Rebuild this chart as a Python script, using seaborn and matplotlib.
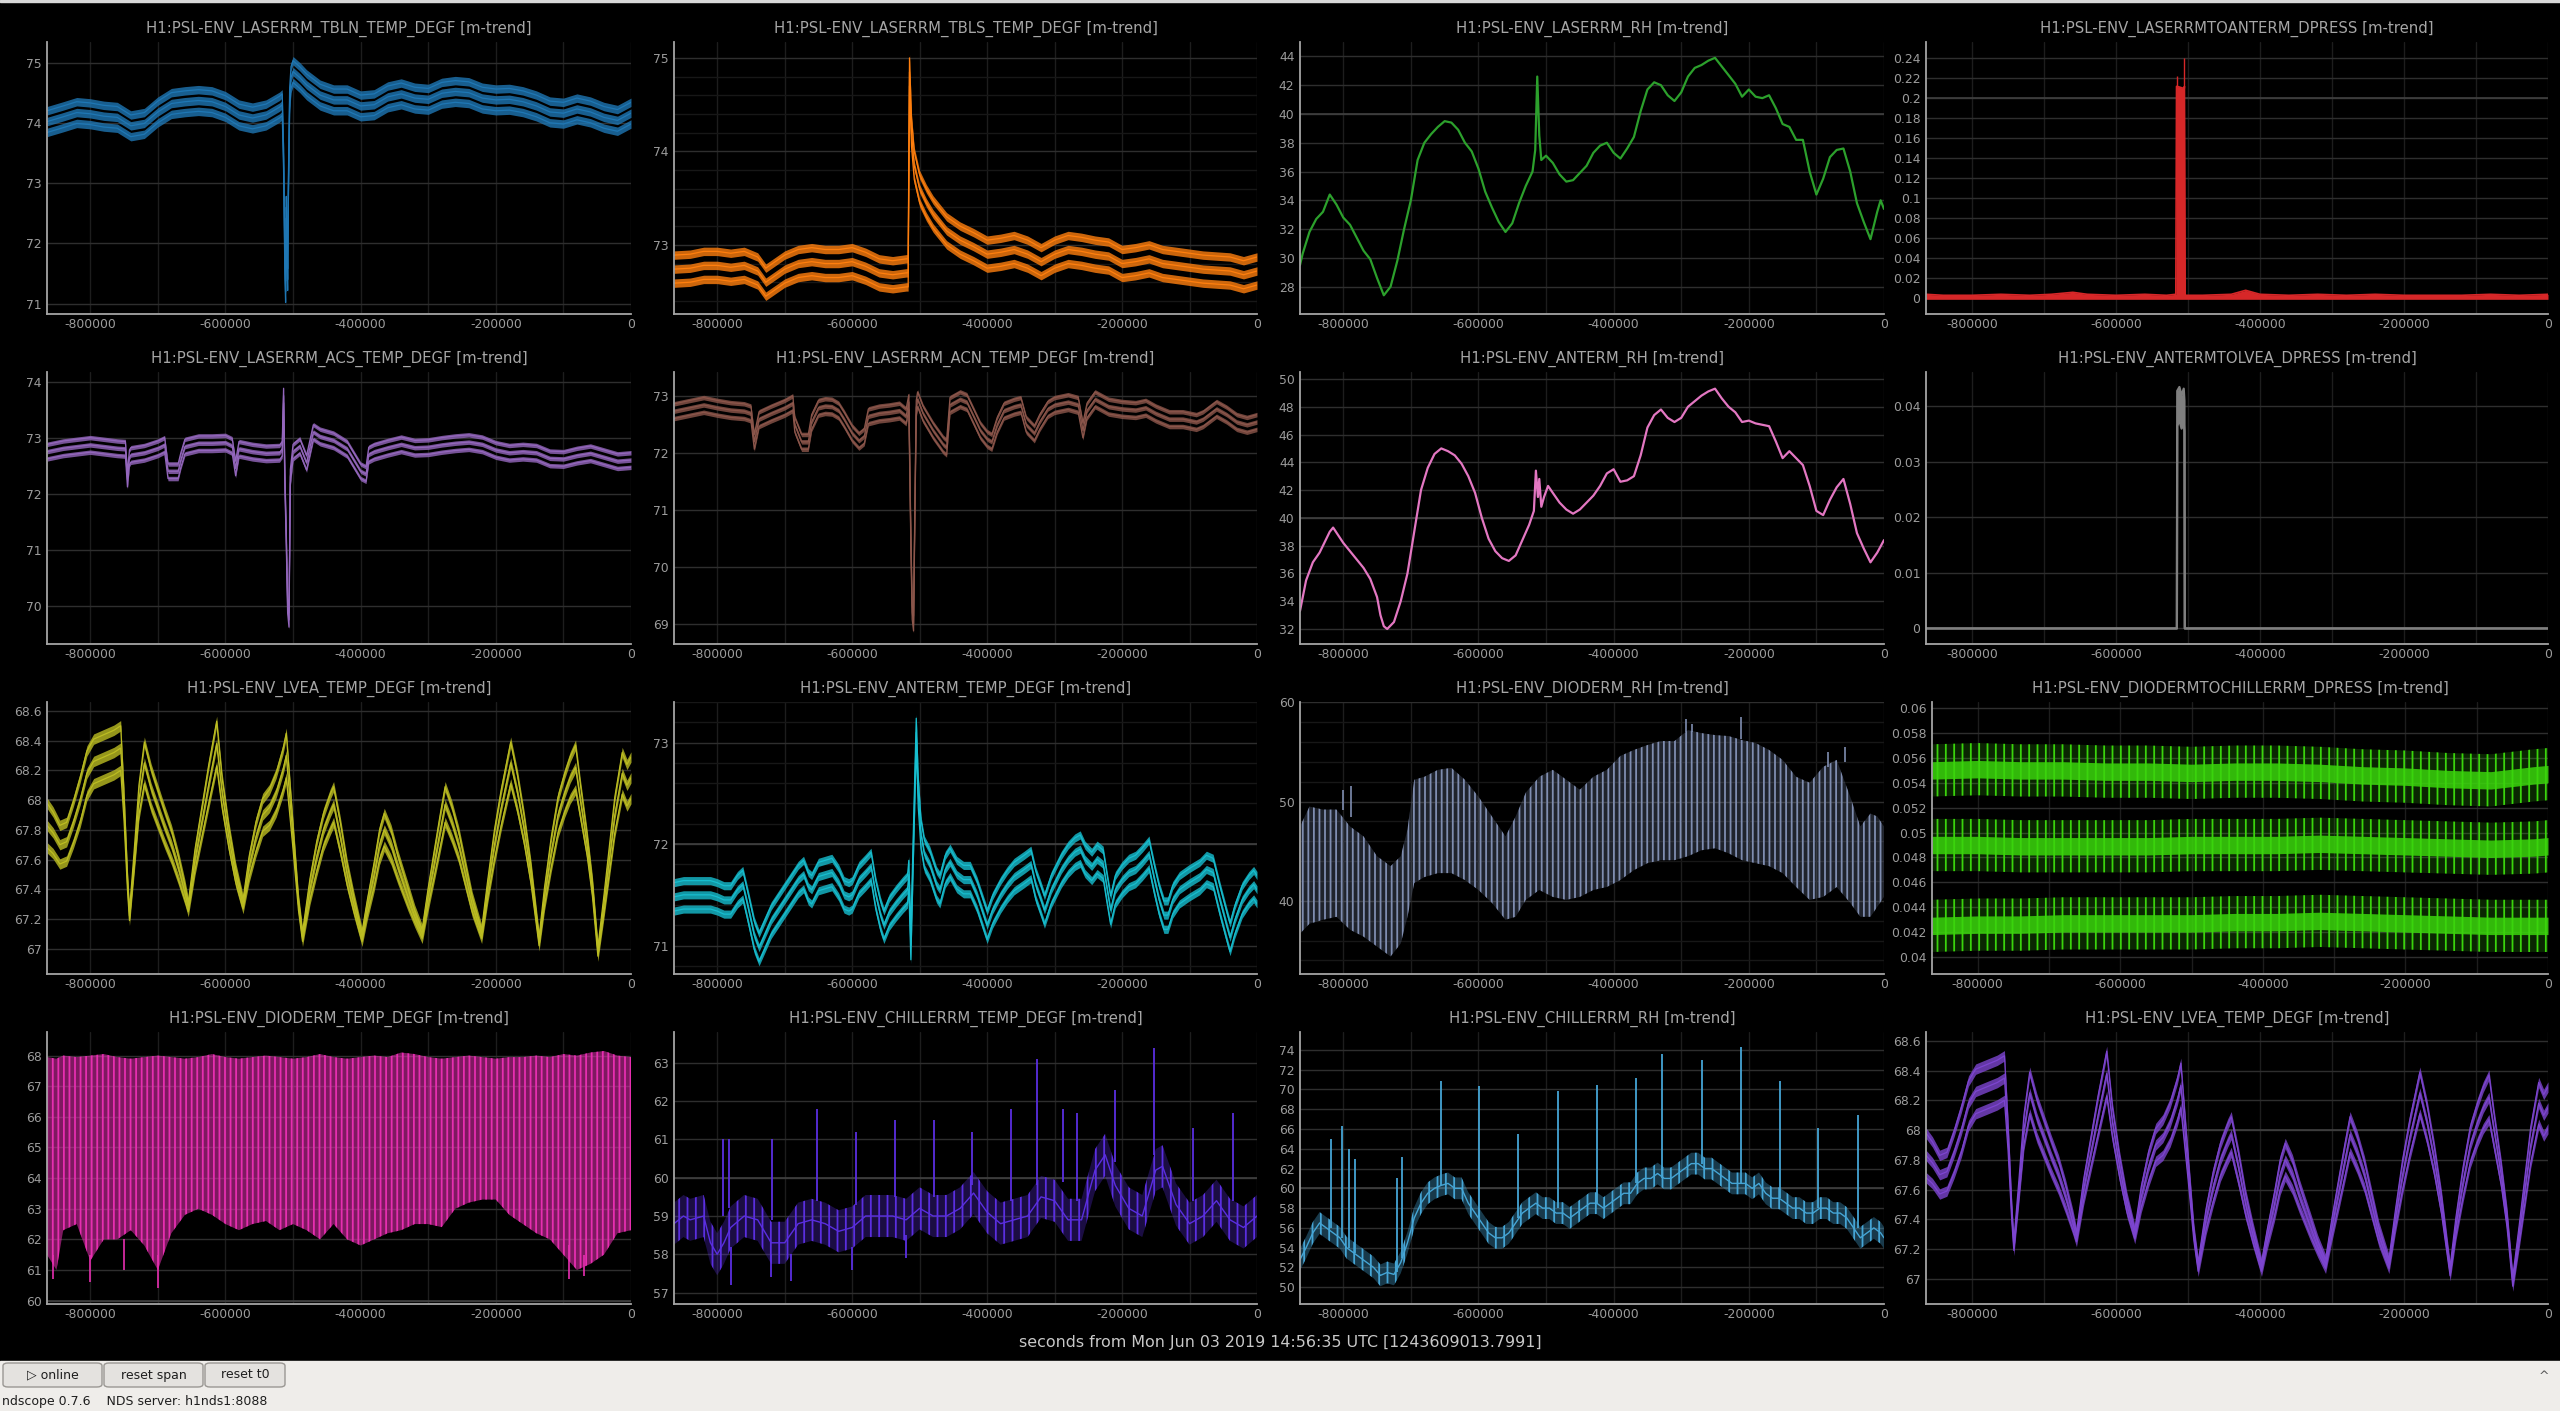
import numpy as np
import matplotlib
matplotlib.use("Agg")
import matplotlib.pyplot as plt
import seaborn as sns
from matplotlib.ticker import MultipleLocator, FuncFormatter
from matplotlib.patches import Rectangle, FancyBboxPatch
from matplotlib.colors import to_rgba

W, H = 2560, 1411

# ---------------- data (time in kiloseconds before t0) ----------------
p1_t = [-864, -840, -820, -800, -780, -760, -740, -720, -700, -680,
        -660, -640, -620, -600, -580, -560, -540, -520, -516, -514,
        -512, -511, -510, -509, -508, -507, -505, -503, -500, -490,
        -480, -460, -440, -420, -400, -380, -360, -340, -320, -300,
        -280, -260, -240, -220, -200, -180, -160, -140, -120, -100,
        -80, -60, -40, -20, 0]
p1_v = [74.02, 74.10, 74.17, 74.15, 74.11, 74.09, 73.95, 73.99, 74.18, 74.32,
        74.35, 74.37, 74.35, 74.27, 74.13, 74.08, 74.13, 74.26, 74.30, 73.40,
        71.60, 71.20, 72.60, 71.90, 71.40, 72.80, 74.40, 74.75, 74.85, 74.75,
        74.63, 74.46, 74.38, 74.38, 74.28, 74.30, 74.43, 74.48, 74.41, 74.39,
        74.49, 74.52, 74.50, 74.41, 74.38, 74.39, 74.35, 74.28, 74.18, 74.16,
        74.23, 74.18, 74.09, 74.04, 74.16]

p2_t = [-864, -840, -820, -800, -780, -760, -740, -728, -720, -700,
        -680, -660, -640, -620, -600, -580, -560, -540, -520, -517,
        -515, -512, -508, -500, -490, -480, -460, -440, -420, -400,
        -380, -360, -340, -320, -300, -280, -260, -240, -220, -200,
        -180, -160, -140, -120, -100, -80, -60, -40, -20, 0]
p2_v = [72.74, 72.75, 72.78, 72.78, 72.76, 72.78, 72.72, 72.60, 72.64, 72.74,
        72.80, 72.82, 72.80, 72.80, 72.82, 72.77, 72.70, 72.68, 72.70, 72.70,
        74.85, 74.20, 73.85, 73.60, 73.45, 73.33, 73.15, 73.05, 72.98, 72.90,
        72.92, 72.95, 72.90, 72.82, 72.90, 72.95, 72.93, 72.90, 72.88, 72.80,
        72.82, 72.85, 72.80, 72.78, 72.76, 72.74, 72.73, 72.72, 72.68, 72.72]

p3_t = [-864, -860, -850, -840, -830, -820, -810, -800, -790, -780,
        -770, -760, -750, -740, -730, -720, -710, -700, -690, -680,
        -670, -660, -650, -640, -630, -620, -610, -600, -590, -580,
        -570, -560, -550, -540, -530, -520, -516, -513, -510, -507,
        -500, -490, -480, -470, -460, -450, -440, -430, -420, -410,
        -400, -390, -380, -370, -360, -350, -340, -330, -320, -310,
        -300, -290, -280, -270, -260, -250, -240, -230, -220, -210,
        -200, -190, -180, -170, -160, -150, -140, -130, -120, -110,
        -100, -90, -80, -70, -60, -50, -40, -30, -20, -10,
        -5, 0]
p3_v = [29.5, 30.3, 31.8, 32.7, 33.2, 34.4, 33.7, 32.8, 32.3, 31.4,
        30.5, 29.9, 28.6, 27.4, 28.0, 29.8, 32.0, 34.0, 36.8, 38.0,
        38.6, 39.1, 39.5, 39.4, 38.9, 38.0, 37.4, 36.2, 34.6, 33.5,
        32.5, 31.8, 32.4, 33.8, 35.0, 36.0, 37.5, 42.6, 38.5, 36.8,
        37.1, 36.6, 35.8, 35.3, 35.4, 35.9, 36.4, 37.3, 37.8, 38.0,
        37.3, 36.9, 37.6, 38.4, 40.2, 41.7, 42.2, 42.0, 41.3, 40.9,
        41.5, 42.6, 43.2, 43.4, 43.7, 43.9, 43.3, 42.7, 42.1, 41.2,
        41.7, 41.2, 41.1, 41.3, 40.4, 39.3, 39.1, 38.2, 38.2, 36.0,
        34.4, 35.5, 37.0, 37.5, 37.6, 36.0, 33.8, 32.5, 31.3, 33.2,
        34.0, 33.4]

p4_t = [-864, -840, -800, -760, -720, -690, -660, -640, -600, -560,
        -530, -517, -516, -515, -506, -505, -504, -480, -440, -420,
        -410, -400, -360, -320, -280, -240, -200, -160, -120, -80,
        -40, 0]
p4_hi = [0.004, 0.003, 0.003, 0.004, 0.003, 0.004, 0.006, 0.004, 0.003, 0.004,
         0.003, 0.004, 0.212, 0.212, 0.210, 0.212, 0.003, 0.003, 0.004, 0.008,
         0.006, 0.004, 0.003, 0.004, 0.003, 0.004, 0.003, 0.003, 0.003, 0.004,
         0.003, 0.004]
p4_floor = -0.001
p4_spk_t = [-515.5, -505.5]
p4_spk_v = [0.222, 0.240]

p5_t = [-864, -840, -820, -800, -780, -760, -748, -745, -742, -740,
        -720, -700, -690, -685, -670, -666, -660, -640, -620, -600,
        -590, -585, -580, -560, -540, -520, -516, -514, -512, -510,
        -508, -506, -504, -500, -490, -480, -470, -460, -440, -420,
        -410, -400, -392, -388, -380, -360, -340, -320, -300, -280,
        -260, -240, -220, -200, -180, -160, -140, -120, -100, -80,
        -60, -40, -20, 0]
p5_v = [72.75, 72.81, 72.84, 72.87, 72.84, 72.81, 72.80, 72.25, 72.65, 72.69,
        72.73, 72.81, 72.87, 72.40, 72.40, 72.60, 72.84, 72.90, 72.90, 72.91,
        72.85, 72.45, 72.80, 72.75, 72.72, 72.73, 72.80, 73.75, 72.20, 71.20,
        70.00, 69.75, 72.30, 72.75, 72.85, 72.55, 73.10, 73.02, 72.95, 72.80,
        72.60, 72.40, 72.35, 72.70, 72.75, 72.82, 72.88, 72.82, 72.83, 72.87,
        72.90, 72.92, 72.88, 72.78, 72.73, 72.75, 72.73, 72.63, 72.62, 72.68,
        72.72, 72.65, 72.58, 72.60]

p6_t = [-864, -840, -820, -800, -780, -760, -750, -745, -738, -720,
        -700, -688, -685, -675, -665, -660, -650, -640, -630, -620,
        -612, -600, -590, -582, -576, -560, -545, -530, -520, -516,
        -513, -511, -509, -507, -505, -503, -495, -480, -465, -460,
        -455, -440, -430, -420, -410, -400, -393, -385, -375, -360,
        -350, -342, -330, -322, -310, -300, -280, -265, -258, -252,
        -240, -220, -200, -180, -165, -150, -130, -110, -90, -80,
        -60, -45, -30, -15, 0]
p6_v = [72.74, 72.80, 72.85, 72.80, 72.76, 72.74, 72.70, 72.20, 72.60, 72.70,
        72.80, 72.88, 72.50, 72.20, 72.20, 72.55, 72.80, 72.83, 72.82, 72.75,
        72.60, 72.35, 72.22, 72.30, 72.65, 72.70, 72.72, 72.75, 72.65, 72.90,
        70.50, 69.20, 69.00, 71.00, 72.80, 72.95, 72.70, 72.40, 72.15, 72.10,
        72.85, 72.95, 72.90, 72.65, 72.40, 72.25, 72.20, 72.50, 72.75, 72.82,
        72.85, 72.50, 72.35, 72.55, 72.78, 72.85, 72.90, 72.85, 72.40, 72.75,
        72.95, 72.82, 72.78, 72.76, 72.80, 72.70, 72.60, 72.60, 72.55, 72.60,
        72.78, 72.68, 72.55, 72.50, 72.55]

p7_t = [-864, -855, -845, -835, -830, -820, -815, -800, -790, -780,
        -770, -760, -750, -745, -740, -735, -725, -715, -705, -695,
        -685, -675, -665, -655, -645, -635, -625, -615, -605, -595,
        -585, -575, -565, -555, -545, -535, -525, -518, -515, -512,
        -510, -507, -503, -497, -490, -480, -470, -460, -450, -440,
        -430, -420, -410, -400, -390, -380, -370, -360, -350, -340,
        -330, -320, -310, -300, -290, -280, -270, -260, -250, -240,
        -230, -220, -210, -200, -190, -180, -170, -160, -150, -140,
        -130, -120, -110, -100, -90, -80, -70, -60, -50, -40,
        -30, -20, -10, 0]
p7_v = [33.3, 35.5, 36.8, 37.5, 38.0, 39.0, 39.3, 38.2, 37.6, 37.0,
        36.4, 35.6, 34.3, 33.0, 32.2, 32.0, 32.5, 34.0, 36.0, 39.0,
        42.0, 43.6, 44.6, 45.0, 44.8, 44.5, 43.9, 43.0, 41.8, 40.0,
        38.5, 37.6, 37.1, 36.9, 37.3, 38.4, 39.5, 40.5, 43.4, 41.5,
        42.8, 40.8, 41.5, 42.3, 41.8, 41.1, 40.6, 40.3, 40.6, 41.1,
        41.6, 42.3, 43.2, 43.5, 42.6, 42.7, 43.0, 44.5, 46.5, 47.4,
        47.8, 47.2, 46.9, 47.2, 48.0, 48.4, 48.8, 49.1, 49.3, 48.6,
        48.0, 47.6, 46.9, 47.0, 46.8, 46.7, 46.6, 45.5, 44.3, 44.8,
        44.3, 43.8, 42.3, 40.5, 40.2, 41.3, 42.2, 42.8, 41.0, 38.9,
        37.8, 36.8, 37.5, 38.4]

p8_t = [-864, -515.5, -515, -512, -509, -506, -505, -504.5, 0]
p8_hi = [0.0, 0.0, 0.0428, 0.0435, 0.0420, 0.0432, 0.0410, 0.0, 0.0]
p8_lo = [0.0, 0.0, 0.0365, 0.0375, 0.0360, 0.0370, 0.0355, 0.0, 0.0]

# LVEA temperature (shown twice: row 3 col 1 and row 4 col 4)
lvea_t = [-864, -855, -845, -835, -825, -815, -805, -795, -785, -775,
          -765, -755, -750, -745, -742, -735, -728, -720, -710, -700,
          -690, -680, -670, -660, -655, -645, -635, -625, -613, -605,
          -595, -585, -574, -565, -555, -545, -535, -525, -515, -510,
          -500, -492, -486, -475, -465, -455, -445, -440, -430, -420,
          -410, -398, -390, -380, -372, -365, -355, -345, -330, -320,
          -309, -300, -290, -282, -275, -265, -255, -245, -235, -221,
          -212, -202, -192, -185, -178, -168, -158, -148, -136, -128,
          -118, -108, -98, -90, -82, -75, -65, -57, -49, -40,
          -32, -24, -13, -6, 0]
lvea_v = [67.83, 67.78, 67.70, 67.72, 67.85, 68.00, 68.18, 68.26, 68.28, 68.30,
          68.32, 68.35, 67.95, 67.45, 67.22, 67.60, 68.00, 68.25, 68.08, 67.95,
          67.82, 67.70, 67.55, 67.38, 67.28, 67.60, 67.85, 68.10, 68.38, 68.05,
          67.75, 67.50, 67.30, 67.55, 67.75, 67.90, 67.95, 68.05, 68.20, 68.30,
          67.75, 67.30, 67.08, 67.40, 67.62, 67.80, 67.92, 67.97, 67.75, 67.50,
          67.30, 67.08, 67.28, 67.50, 67.70, 67.80, 67.70, 67.55, 67.35, 67.22,
          67.10, 67.35, 67.60, 67.80, 67.97, 67.85, 67.70, 67.50, 67.30, 67.10,
          67.40, 67.70, 67.95, 68.10, 68.25, 68.05, 67.80, 67.50, 67.05, 67.35,
          67.65, 67.90, 68.05, 68.15, 68.22, 68.00, 67.70, 67.40, 66.98, 67.30,
          67.60, 67.90, 68.18, 68.10, 68.15]
lvea_off = [.15, .14, .13, .13, .14, .15, .15, .15, .15, .15,
            .15, .15, .09, .05, .03, .06, .10, .14, .13, .12,
            .11, .10, .08, .05, .03, .07, .10, .13, .15, .10,
            .07, .05, .03, .07, .10, .11, .12, .13, .14, .15,
            .08, .04, .03, .07, .10, .11, .12, .12, .10, .07,
            .05, .03, .05, .08, .10, .11, .10, .08, .06, .04,
            .03, .06, .09, .11, .12, .11, .09, .07, .05, .03,
            .06, .10, .12, .13, .14, .12, .09, .06, .03, .06,
            .10, .12, .13, .14, .15, .11, .07, .05, .03, .06,
            .09, .12, .14, .14, .14]

p10_t = [-864, -850, -830, -810, -800, -790, -780, -770, -762, -755,
         -745, -738, -730, -720, -710, -700, -690, -680, -672, -665,
         -660, -650, -640, -630, -620, -612, -605, -600, -590, -580,
         -572, -565, -558, -553, -545, -535, -525, -518, -516, -513,
         -510, -505, -502, -498, -493, -485, -475, -470, -462, -455,
         -445, -435, -425, -415, -405, -400, -392, -380, -370, -360,
         -345, -335, -328, -320, -315, -305, -290, -280, -270, -262,
         -255, -245, -237, -228, -222, -217, -210, -200, -190, -180,
         -170, -160, -152, -145, -138, -132, -125, -115, -100, -85,
         -75, -65, -55, -45, -40, -33, -22, -12, -5, 0]
p10_v = [71.48, 71.50, 71.50, 71.50, 71.48, 71.45, 71.45, 71.55, 71.60, 71.40,
         71.10, 70.98, 71.10, 71.25, 71.35, 71.45, 71.55, 71.65, 71.70, 71.58,
         71.55, 71.68, 71.70, 71.72, 71.62, 71.50, 71.48, 71.50, 71.65, 71.72,
         71.78, 71.50, 71.30, 71.20, 71.33, 71.42, 71.50, 71.55, 71.70, 71.00,
         71.80, 73.10, 72.50, 72.10, 71.90, 71.80, 71.60, 71.55, 71.75, 71.82,
         71.70, 71.65, 71.65, 71.50, 71.30, 71.20, 71.35, 71.50, 71.60, 71.68,
         71.75, 71.80, 71.60, 71.45, 71.35, 71.55, 71.75, 71.85, 71.92, 71.95,
         71.85, 71.78, 71.85, 71.80, 71.55, 71.35, 71.55, 71.65, 71.72, 71.75,
         71.82, 71.90, 71.65, 71.45, 71.30, 71.30, 71.45, 71.55, 71.62, 71.68,
         71.75, 71.72, 71.45, 71.20, 71.08, 71.25, 71.45, 71.55, 71.60, 71.55]

p11_t = [-864, -850, -830, -810, -790, -770, -750, -730, -715, -705,
         -695, -680, -660, -640, -620, -600, -580, -560, -545, -530,
         -510, -490, -470, -450, -430, -410, -390, -370, -350, -330,
         -310, -290, -270, -250, -230, -210, -190, -170, -150, -130,
         -110, -90, -70, -50, -35, -20, -10, 0]
p11_hi = [47.5, 49.5, 49.2, 49.2, 47.5, 46.5, 44.5, 43.5, 44.5, 47.2,
          52.2, 52.5, 53.2, 53.4, 52.2, 50.5, 48.5, 46.5, 48.5, 50.9,
          52.5, 53.2, 52.2, 51.2, 52.5, 53.2, 54.6, 55.2, 55.7, 56.1,
          56.1, 57.2, 56.9, 56.7, 56.6, 56.2, 55.9, 55.2, 54.2, 52.5,
          51.9, 53.5, 54.2, 50.5, 47.5, 48.8, 48.5, 47.5]
p11_lo = [36.7, 37.7, 38.1, 38.4, 37.1, 36.4, 35.4, 34.4, 35.7, 38.4,
          41.8, 42.4, 42.8, 42.8, 42.1, 41.1, 39.8, 38.1, 38.4, 40.1,
          41.1, 40.4, 40.1, 40.4, 41.1, 41.4, 42.1, 43.1, 43.8, 44.1,
          44.1, 44.5, 45.1, 45.3, 44.8, 44.1, 43.8, 43.5, 42.8, 41.4,
          40.1, 40.4, 41.4, 39.8, 38.4, 38.4, 39.4, 40.4]
p11_spk_t = [-800, -789, -293, -284, -212, -83, -57]
p11_spk_lo = [49.2, 48.5, 57.0, 57.0, 56.3, 53.5, 54.0]
p11_spk_hi = [51.2, 51.6, 58.3, 57.8, 58.5, 55.0, 55.5]

p12_t = [-864, -800, -740, -680, -620, -560, -500, -440, -380, -320, -260, -200, -140, -80, -20, 0]
p12_top = [0.0550, 0.0551, 0.0550, 0.0550, 0.0549, 0.0549, 0.0548, 0.0549,
           0.0549, 0.0548, 0.0546, 0.0545, 0.0543, 0.0542, 0.0546, 0.0547]
p12_mid = [0.0490, 0.0490, 0.0489, 0.0489, 0.0489, 0.0489, 0.0490, 0.0490,
           0.0490, 0.0491, 0.0490, 0.0489, 0.0488, 0.0487, 0.0488, 0.0489]
p12_bot = [0.0425, 0.0426, 0.0426, 0.0427, 0.0427, 0.0427, 0.0427, 0.0428,
           0.0428, 0.0429, 0.0428, 0.0427, 0.0426, 0.0425, 0.0425, 0.0425]

p13_t = [-864, -850, -840, -820, -800, -780, -760, -740, -720, -700,
         -680, -660, -640, -620, -600, -580, -560, -540, -520, -500,
         -480, -460, -440, -420, -400, -380, -360, -340, -320, -300,
         -280, -260, -240, -220, -200, -180, -160, -140, -120, -100,
         -80, -60, -40, -20, 0]
p13_lo = [61.5, 61.0, 62.3, 62.5, 61.3, 62.0, 62.0, 62.3, 61.8, 61.0,
          62.2, 62.8, 63.0, 62.8, 62.5, 62.3, 62.5, 62.6, 62.3, 62.5,
          62.3, 62.0, 62.5, 62.0, 61.8, 62.0, 62.2, 62.3, 62.5, 62.5,
          62.4, 63.0, 63.2, 63.3, 63.3, 62.8, 62.5, 62.2, 62.0, 61.5,
          61.0, 61.2, 61.5, 62.2, 62.3]
p13_hi = [67.95, 67.90, 68.00, 67.95, 68.00, 68.05, 67.95, 67.90, 67.95, 68.00,
          67.95, 67.90, 67.95, 68.05, 67.95, 67.90, 67.95, 68.00, 67.95, 67.90,
          67.95, 68.05, 67.95, 67.90, 67.95, 68.00, 67.95, 68.10, 68.05, 67.95,
          67.90, 67.95, 68.00, 67.95, 67.90, 67.95, 67.95, 68.00, 67.95, 68.05,
          68.00, 68.10, 68.15, 68.00, 67.95]
p13_dn_t = [-855, -800, -750, -700, -92, -70]
p13_dn_top = [61.5, 61.5, 62.0, 61.5, 61.8, 61.5]
p13_dn_bot = [60.7, 60.6, 61.0, 60.4, 60.7, 60.8]

p14_t = [-864, -850, -840, -820, -810, -800, -790, -780, -760, -740,
         -720, -700, -680, -660, -640, -620, -600, -580, -560, -540,
         -520, -500, -480, -460, -440, -420, -400, -380, -360, -340,
         -320, -300, -280, -260, -240, -225, -210, -190, -170, -150,
         -140, -120, -100, -80, -60, -40, -20, 0]
p14_v = [58.8, 59.0, 58.9, 59.0, 58.3, 58.0, 58.3, 58.7, 59.0, 58.9,
         58.3, 58.3, 58.8, 58.9, 58.8, 58.6, 58.7, 59.0, 59.0, 59.0,
         58.9, 59.2, 59.0, 59.0, 59.2, 59.6, 59.1, 58.8, 58.9, 59.0,
         59.5, 59.4, 58.9, 58.9, 60.2, 60.6, 59.8, 59.2, 59.0, 60.2,
         60.3, 59.3, 58.8, 59.0, 59.4, 58.9, 58.7, 59.0]
p14_spk_t = [-791, -783, -719, -652, -595, -536, -479, -422, -364, -326, -288, -267, -210, -152, -95, -36]
p14_spk_lo = [59.0, 59.2, 58.9, 59.4, 59.3, 59.5, 59.5, 59.8, 59.4, 59.8, 59.9, 59.4, 60.4, 60.6, 59.4, 59.4]
p14_spk_hi = [61.0, 61.0, 61.0, 61.8, 61.2, 61.5, 61.5, 61.2, 61.8, 63.1, 61.8, 61.7, 62.3, 63.4, 61.3, 61.7]
p14_dn_t = [-780, -720, -690, -600, -520]
p14_dn_hi = [58.2, 58.0, 58.0, 58.2, 58.5]
p14_dn_lo = [57.2, 57.4, 57.3, 57.6, 57.9]

p15_t = [-864, -855, -845, -835, -825, -815, -805, -795, -785, -775,
         -765, -755, -745, -735, -725, -715, -705, -695, -685, -675,
         -665, -655, -645, -635, -625, -615, -605, -595, -585, -575,
         -565, -555, -545, -535, -525, -515, -505, -495, -485, -475,
         -465, -455, -445, -435, -425, -415, -405, -395, -385, -375,
         -365, -355, -345, -335, -325, -315, -305, -295, -285, -275,
         -265, -255, -245, -235, -225, -215, -205, -195, -185, -175,
         -165, -155, -145, -135, -125, -115, -105, -95, -85, -75,
         -65, -55, -45, -35, -25, -15, -5, 0]
p15_v = [52.8, 54.0, 55.5, 56.5, 56.0, 55.5, 55.0, 54.0, 53.5, 53.0,
         52.5, 52.0, 51.2, 51.5, 51.3, 52.5, 54.5, 57.0, 58.5, 59.5,
         60.0, 60.3, 60.5, 60.0, 60.0, 58.5, 57.5, 56.5, 55.5, 55.0,
         55.0, 55.5, 56.5, 57.5, 58.0, 58.5, 58.0, 58.0, 57.5, 57.5,
         57.0, 57.5, 58.0, 58.5, 58.5, 58.0, 58.5, 59.0, 59.5, 59.5,
         60.5, 61.0, 61.0, 61.5, 61.0, 61.0, 61.5, 62.0, 62.5, 62.5,
         62.0, 62.0, 61.5, 61.0, 60.5, 60.5, 60.5, 60.0, 60.5, 59.5,
         59.0, 59.0, 58.5, 58.0, 58.0, 57.5, 57.5, 58.0, 58.0, 57.5,
         57.5, 57.0, 56.0, 55.0, 55.5, 56.0, 55.5, 55.0]
p15_spk_t = [-818, -802, -792, -782, -721, -713, -656, -599, -541, -482, -424, -367, -328, -270, -212, -154, -97, -39]
p15_spk_lo = [56.0, 55.0, 54.0, 53.5, 51.5, 53.0, 60.3, 57.0, 57.0, 58.0, 58.5, 60.5, 61.0, 62.5, 60.5, 59.0, 58.0, 56.0]
p15_spk_hi = [65.0, 66.3, 64.0, 63.0, 61.0, 63.2, 70.8, 70.3, 65.5, 69.8, 70.4, 71.2, 73.6, 73.0, 74.3, 70.8, 66.1, 67.4]

TITLES = [
    "H1:PSL-ENV_LASERRM_TBLN_TEMP_DEGF [m-trend]", "H1:PSL-ENV_LASERRM_TBLS_TEMP_DEGF [m-trend]",
    "H1:PSL-ENV_LASERRM_RH [m-trend]", "H1:PSL-ENV_LASERRMTOANTERM_DPRESS [m-trend]",
    "H1:PSL-ENV_LASERRM_ACS_TEMP_DEGF [m-trend]", "H1:PSL-ENV_LASERRM_ACN_TEMP_DEGF [m-trend]",
    "H1:PSL-ENV_ANTERM_RH [m-trend]", "H1:PSL-ENV_ANTERMTOLVEA_DPRESS [m-trend]",
    "H1:PSL-ENV_LVEA_TEMP_DEGF [m-trend]", "H1:PSL-ENV_ANTERM_TEMP_DEGF [m-trend]",
    "H1:PSL-ENV_DIODERM_RH [m-trend]", "H1:PSL-ENV_DIODERMTOCHILLERRM_DPRESS [m-trend]",
    "H1:PSL-ENV_DIODERM_TEMP_DEGF [m-trend]", "H1:PSL-ENV_CHILLERRM_TEMP_DEGF [m-trend]",
    "H1:PSL-ENV_CHILLERRM_RH [m-trend]", "H1:PSL-ENV_LVEA_TEMP_DEGF [m-trend]",
]
XLABEL = "seconds from Mon Jun 03 2019 14:56:35 UTC [1243609013.7991]"

# ---------------- style ----------------
sns.set_theme(style="dark", rc={"axes.facecolor": "black", "figure.facecolor": "black"})
plt.rcParams["font.family"] = ["DejaVu Sans"]
plt.rcParams["axes.unicode_minus"] = False
plt.rcParams["hatch.linewidth"] = 1.3

TXT = "#9c9c9c"
ROW_TOP = [42, 372, 702, 1032]
ROW_BOT = [314, 644, 974, 1304]
COL_L = [47, 674, 1300, 1926]
COL_R = [631, 1257, 1884, 2548]

fig = plt.figure(figsize=(W / 100, H / 100), dpi=100, facecolor="black")


def make_ax(row, col, left=None):
    l = COL_L[col] if left is None else left
    r = COL_R[col]
    return fig.add_axes([l / W, 1 - ROW_BOT[row] / H, (r - l) / W,
                         (ROW_BOT[row] - ROW_TOP[row]) / H])


def fmt_y(v, pos):
    s = f"{round(v, 6):g}"
    return "0" if s == "-0" else s


def style(ax, title, ylim, major, minor=None, bright=()):
    ax.set_facecolor("black")
    ax.set_xlim(-864000, 0)
    ax.set_ylim(*ylim)
    ax.set_axisbelow(True)
    ax.xaxis.set_major_locator(MultipleLocator(200000))
    ax.xaxis.set_minor_locator(MultipleLocator(100000))
    ax.yaxis.set_major_locator(MultipleLocator(major))
    if minor:
        ax.yaxis.set_minor_locator(MultipleLocator(minor))
    ax.xaxis.set_major_formatter(FuncFormatter(lambda v, p: f"{int(round(v))}"))
    ax.yaxis.set_major_formatter(FuncFormatter(fmt_y))
    ax.tick_params(which="both", length=0, colors=TXT, labelsize=8.9)
    ax.tick_params(axis="x", pad=3)
    ax.tick_params(axis="y", pad=4)
    ax.grid(False)
    ax.grid(axis="x", which="both", color="#1d1d1d", lw=1)
    ax.grid(axis="y", which="major", color="#2e2e2e", lw=1)
    if minor:
        ax.grid(axis="y", which="minor", color="#171717", lw=1)
    for b in bright:
        ax.axhline(b, color="#404040", lw=1.2, zorder=0.6)
    for s in ("top", "right"):
        ax.spines[s].set_visible(False)
    for s in ("left", "bottom"):
        ax.spines[s].set_visible(True)
        ax.spines[s].set_color("#a4a4a4")
        ax.spines[s].set_linewidth(1.3)
    ax.set_xlabel("")
    ax.set_ylabel("")
    ax.set_title(title, color="#a6a6a6", fontsize=10.7, pad=6.5)


def ks(t):
    return np.asarray(t, dtype=float) * 1000


def trend(ax, t, v, off, hw, color):
    # min / mean / max trend lines, each drawn as a narrow noisy ribbon
    x = ks(t)
    v = np.asarray(v)
    off = np.asarray(off)
    for c in (v - off, v, v + off):
        ax.fill_between(x, c - hw, c + hw, color=color, lw=0, alpha=0.8)
        sns.lineplot(x=x, y=c, ax=ax, color=color, lw=0.9)


def dense(ax, t, lo, hi, color, face_alpha, hatch):
    # envelope of a fast oscillation: faint fill plus vertical strokes
    ax.fill_between(ks(t), lo, hi, facecolor=to_rgba(color, face_alpha),
                    edgecolor=color, hatch=hatch, lw=0)


def spikes(ax, t, lo, hi, color, lw=1.3):
    ax.vlines(ks(t), lo, hi, color=color, lw=lw)


# ---------------- row 1 ----------------
ax = make_ax(0, 0)
trend(ax, p1_t, p1_v, 0.18, 0.07, "#1f77b4")
style(ax, TITLES[0], (70.83, 75.34), 1)

ax = make_ax(0, 1)
trend(ax, p2_t, p2_v, 0.15, 0.045, "#ff7f0e")
style(ax, TITLES[1], (72.26, 75.17), 1, 0.2)

ax = make_ax(0, 2)
sns.lineplot(x=ks(p3_t), y=p3_v, ax=ax, color="#2ca02c", lw=1.6)
style(ax, TITLES[2], (26.1, 45.0), 2, None, (40,))

ax = make_ax(0, 3)
ax.fill_between(ks(p4_t), p4_floor, p4_hi, color="#d62728", lw=0)
sns.lineplot(x=ks(p4_t), y=p4_hi, ax=ax, color="#d62728", lw=1.2)
spikes(ax, p4_spk_t, 0.21, p4_spk_v, "#d62728", 1.0)
style(ax, TITLES[3], (-0.0157, 0.2564), 0.02, None, (0.2,))

# ---------------- row 2 ----------------
ax = make_ax(1, 0)
trend(ax, p5_t, p5_v, 0.13, 0.04, "#9467bd")
style(ax, TITLES[4], (69.32, 74.17), 1)

ax = make_ax(1, 1)
trend(ax, p6_t, p6_v, 0.13, 0.04, "#8c564b")
style(ax, TITLES[5], (68.64, 73.43), 1)

ax = make_ax(1, 2)
sns.lineplot(x=ks(p7_t), y=p7_v, ax=ax, color="#e377c2", lw=1.6)
style(ax, TITLES[6], (30.92, 50.5), 2, None, (40,))

ax = make_ax(1, 3)
ax.fill_between(ks(p8_t), p8_lo, p8_hi, color="#7f7f7f", lw=0)
sns.lineplot(x=ks(p8_t), y=p8_hi, ax=ax, color="#7f7f7f", lw=1.6)
sns.lineplot(x=ks(p8_t), y=p8_lo, ax=ax, color="#7f7f7f", lw=1.6)
style(ax, TITLES[7], (-0.0028, 0.0462), 0.01)

# ---------------- row 3 ----------------
ax = make_ax(2, 0)
trend(ax, lvea_t, lvea_v, lvea_off, 0.035, "#bcbd22")
style(ax, TITLES[8], (66.83, 68.66), 0.2, None, (68,))

ax = make_ax(2, 1)
trend(ax, p10_t, p10_v, 0.14, 0.04, "#17becf")
style(ax, TITLES[9], (70.72, 73.4), 1, 0.2, (72,))

ax = make_ax(2, 2)
dense(ax, p11_t, p11_lo, p11_hi, "#7f8db0", 0.25, "|||")
spikes(ax, p11_spk_t, p11_spk_lo, p11_spk_hi, "#7f8db0", 1.2)
style(ax, TITLES[10], (32.64, 60.03), 10, 2)

ax = make_ax(2, 3, left=1932)
for band in (p12_top, p12_mid, p12_bot):
    b = np.asarray(band)
    dense(ax, p12_t, b - 0.0021, b + 0.0021, "#3ad40c", 0.18, "||")
    ax.fill_between(ks(p12_t), b - 0.0007, b + 0.0007, color="#3ad40c", lw=0, alpha=0.85)
style(ax, TITLES[11], (0.03863, 0.0605), 0.002)

# ---------------- row 4 ----------------
ax = make_ax(3, 0)
dense(ax, p13_t, p13_lo, p13_hi, "#e62eb0", 0.55, "|||")
spikes(ax, p13_dn_t, p13_dn_bot, p13_dn_top, "#e62eb0", 1.2)
style(ax, TITLES[12], (59.89, 68.77), 1, None, (60,))

ax = make_ax(3, 1)
v14 = np.asarray(p14_v)
dense(ax, p14_t, v14 - 0.55, v14 + 0.55, "#5a2ee0", 0.3, "||")
sns.lineplot(x=ks(p14_t), y=v14, ax=ax, color="#5a2ee0", lw=1.0)
spikes(ax, p14_spk_t, p14_spk_lo, p14_spk_hi, "#5a2ee0", 1.3)
spikes(ax, p14_dn_t, p14_dn_lo, p14_dn_hi, "#5a2ee0", 1.3)
style(ax, TITLES[13], (56.70, 63.81), 1, None, (60,))

ax = make_ax(3, 2)
v15 = np.asarray(p15_v)
dense(ax, p15_t, v15 - 1.1, v15 + 1.1, "#45a5d5", 0.35, "||")
sns.lineplot(x=ks(p15_t), y=v15, ax=ax, color="#45a5d5", lw=1.0)
spikes(ax, p15_spk_t, p15_spk_lo, p15_spk_hi, "#45a5d5", 1.3)
style(ax, TITLES[14], (48.31, 75.8), 2, None, (60,))

ax = make_ax(3, 3)
trend(ax, lvea_t, lvea_v, lvea_off, 0.035, "#7d45d0")
style(ax, TITLES[15], (66.83, 68.66), 0.2, None, (68,))

# ---------------- figure furniture ----------------
fig.text(0.5, 1 - 1342 / H, XLABEL, ha="center", va="center", fontsize=11.4, color="#c8c8c8")

fig.patches.append(Rectangle((0, 1 - 2 / H), 1, 2 / H, transform=fig.transFigure,
                             color="#d8d8d8", zorder=5))
fig.patches.append(Rectangle((0, 0), 1, 50 / H, transform=fig.transFigure,
                             color="#efedea", zorder=1))
for x0, x1, label in [(3, 102, "\u25b7 online"), (104, 203, "reset span"), (205, 285, "reset t0")]:
    fig.patches.append(FancyBboxPatch((x0 / W, 1 - 1387 / H), (x1 - x0) / W, 24 / H,
                                      boxstyle="round,pad=0,rounding_size=0.002",
                                      transform=fig.transFigure, facecolor="#e4e2df",
                                      edgecolor="#9a9793", lw=1, zorder=2))
    fig.text((x0 + x1) / 2 / W, 1 - 1375 / H, label, ha="center", va="center",
             fontsize=9, color="#1e1e1e", zorder=3)
fig.text(2 / W, 1 - 1401 / H, "ndscope 0.7.6    NDS server: h1nds1:8088", ha="left",
         va="center", fontsize=9, color="#1e1e1e")
fig.text(2544 / W, 1 - 1377 / H, "^", ha="center", va="center", fontsize=9, color="#555555")

fig.savefig("out.png", dpi=100, facecolor="black")
